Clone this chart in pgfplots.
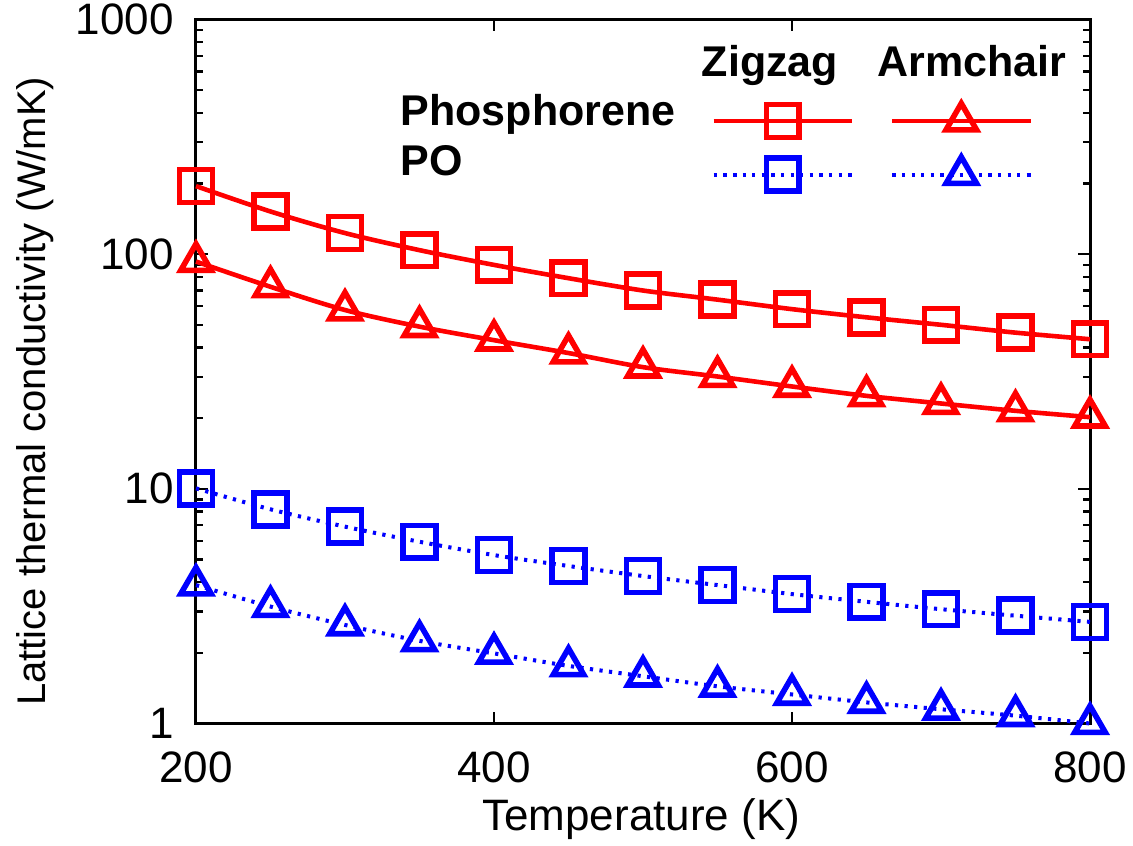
\documentclass[border=0pt]{standalone}
\usepackage{fontspec}
\setmainfont{Liberation Sans}
\usepackage{pgfplots}
\pgfplotsset{compat=1.18}
\begin{document}
\begin{tikzpicture}
\path[use as bounding box] (-49pt,-30.375pt) rectangle (234.25pt,180.875pt);
\begin{axis}[
  scale only axis, width=223.5pt, height=176pt,
  xmin=200, xmax=800, ymode=log, ymin=1, ymax=1000,
  xtick={200,400,600,800}, xticklabels={200,400,600,800},
  ytick={1,10,100,1000}, yticklabels={1,10,100,1000},
  minor xtick={},
  /pgf/number format/assume math mode=true,
  axis line style={line width=0.75pt},
  every tick/.style={black, line width=0.6pt},
  major tick length=3pt, minor tick length=1.75pt,
  tick align=inside,
  clip=false,
  xticklabel style={font=\fontsize{11}{12}\selectfont, yshift=-3.5pt},
  yticklabel style={font=\fontsize{11}{12}\selectfont, xshift=-2pt},
  xlabel={Temperature (K)},
  ylabel={Lattice thermal conductivity (W/mK)},
  xlabel style={at={(axis description cs:0.498,-0.1357)}, anchor=center, font=\fontsize{11}{12}\selectfont},
  ylabel style={at={(axis description cs:-0.180,0.472)}, anchor=center, font=\fontsize{10}{12}\selectfont},
  legend columns=2,
  legend style={at={(axis description cs:0.5765,0.8899)}, anchor=north west, draw=none, fill=none,
    inner sep=0pt, outer sep=0pt, /tikz/column sep=4pt, /tikz/row sep=1.4pt,
    nodes={inner sep=0pt, outer sep=0pt}},
  legend image code/.code={
    \path[draw=none, fill=none] (-17.25pt,-6pt) rectangle (17.25pt,6pt);
    \draw[mark repeat=2,mark phase=2,#1] plot coordinates {(-17.25pt,0pt)(0pt,0pt)(17.25pt,0pt)};
  },
]
\addplot[red, line width=1.15pt, smooth, mark=square, mark size=4.1pt, mark options={solid, line width=1.4pt}] coordinates {
(200,195) (250,152) (300,123) (350,104) (400,90) (450,79) (500,70) (550,64) (600,58.3) (650,53.8) (700,50) (750,46.3) (800,43.4)};
\addlegendentry{}
\addplot[red, line width=1.15pt, smooth, mark=triangle, mark size=4.4pt, mark options={solid, line width=1.4pt}] coordinates {
(200,93) (250,72.6) (300,57.8) (350,49.1) (400,43) (450,37.9) (500,33) (550,30.1) (600,27.3) (650,24.9) (700,23.1) (750,21.5) (800,20.2)};
\addlegendentry{}
\addplot[blue, line width=1pt, smooth, dash pattern=on 0.8pt off 1.6pt, mark=square, mark size=4.1pt, mark options={solid, line width=1.4pt}] coordinates {
(200,10.05) (250,8.18) (300,6.9) (350,5.95) (400,5.22) (450,4.69) (500,4.25) (550,3.89) (600,3.56) (650,3.30) (700,3.07) (750,2.88) (800,2.71)};
\addlegendentry{}
\addplot[blue, line width=1pt, smooth, dash pattern=on 0.8pt off 1.6pt, mark=triangle, mark size=4.4pt, mark options={solid, line width=1.4pt}] coordinates {
(200,3.89) (250,3.15) (300,2.63) (350,2.25) (400,1.99) (450,1.76) (500,1.59) (550,1.44) (600,1.33) (650,1.23) (700,1.15) (750,1.08) (800,1.0)};
\addlegendentry{}
\node[anchor=base, font=\bfseries\fontsize{10.75}{12}\selectfont] at (axis description cs:0.642,0.9183) {Zigzag};
\node[anchor=base, font=\bfseries\fontsize{10.75}{12}\selectfont] at (axis description cs:0.868,0.9183) {Armchair};
\node[anchor=base west, inner sep=0pt, font=\bfseries\fontsize{10.75}{12}\selectfont] at (axis description cs:0.228,0.850) {Phosphorene};
\node[anchor=base west, inner sep=0pt, font=\bfseries\fontsize{10.75}{12}\selectfont] at (axis description cs:0.228,0.779) {PO};
\end{axis}
\end{tikzpicture}
\end{document}
